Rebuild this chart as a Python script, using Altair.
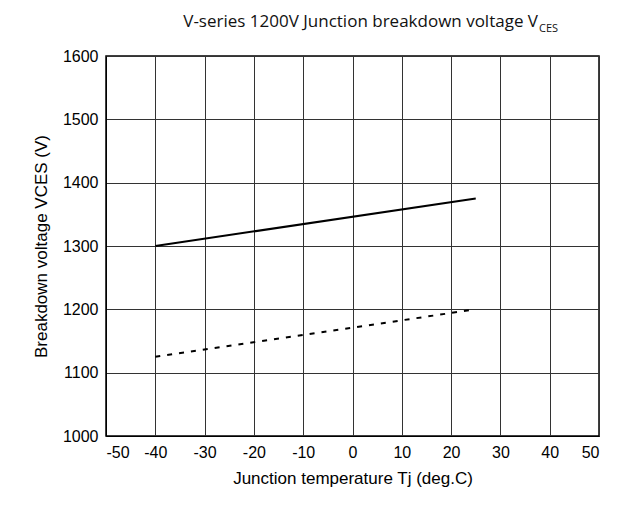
import altair as alt
import pandas as pd

temps = [-40, 25]
vces_solid = [1300, 1375]
vces_dashed = [1125, 1200]

df = pd.DataFrame({
    "t": temps + temps,
    "v": vces_solid + vces_dashed,
    "s": ["solid", "solid", "dashed", "dashed"],
})

x = alt.X("t:Q", scale=alt.Scale(domain=[-50, 50]),
          axis=alt.Axis(values=list(range(-50, 51, 10)), labelExpr="datum.value + ''",
                        title="Junction temperature Tj (deg.C)"))
y = alt.Y("v:Q", scale=alt.Scale(domain=[1000, 1600]),
          axis=alt.Axis(values=list(range(1000, 1601, 100)), labelExpr="datum.value + ''",
                        title="Breakdown voltage VCES (V)"))

solid = alt.Chart(df[df.s == "solid"]).mark_line(color="black", strokeWidth=2).encode(x=x, y=y)
dashed = alt.Chart(df[df.s == "dashed"]).mark_line(color="black", strokeWidth=2, strokeDash=[5, 7]).encode(x=x, y=y)

title = alt.Chart(pd.DataFrame({"a": [0]})).mark_text(
    text="V-series 1200V Junction breakdown voltage V", font="Open Sans", fontSize=17,
    align="right", baseline="alphabetic", color="#111").encode(x=alt.value(432), y=alt.value(-29))
sub = alt.Chart(pd.DataFrame({"a": [0]})).mark_text(
    text="CES", font="Open Sans", fontSize=11, align="left", baseline="alphabetic",
    color="#111").encode(x=alt.value(433), y=alt.value(-24))

chart = (solid + dashed + title + sub).properties(
    width=493, height=380, padding={"left": 24, "top": 5, "right": 16, "bottom": 10}
).configure_axis(
    grid=True, gridColor="#333", gridWidth=1, domainColor="black", tickColor="black",
    labelFont="Liberation Sans", titleFont="Liberation Sans", labelFontSize=16, titleFontSize=17,
    labelColor="black", titleColor="black", titleFontWeight="normal", labelPadding=8, tickSize=0,
).configure_axisY(titlePadding=12).configure_axisX(titlePadding=10).configure_view(
    stroke="black", strokeWidth=1.5)

chart.save("out.html", embed_options={"renderer": "svg", "actions": False})
